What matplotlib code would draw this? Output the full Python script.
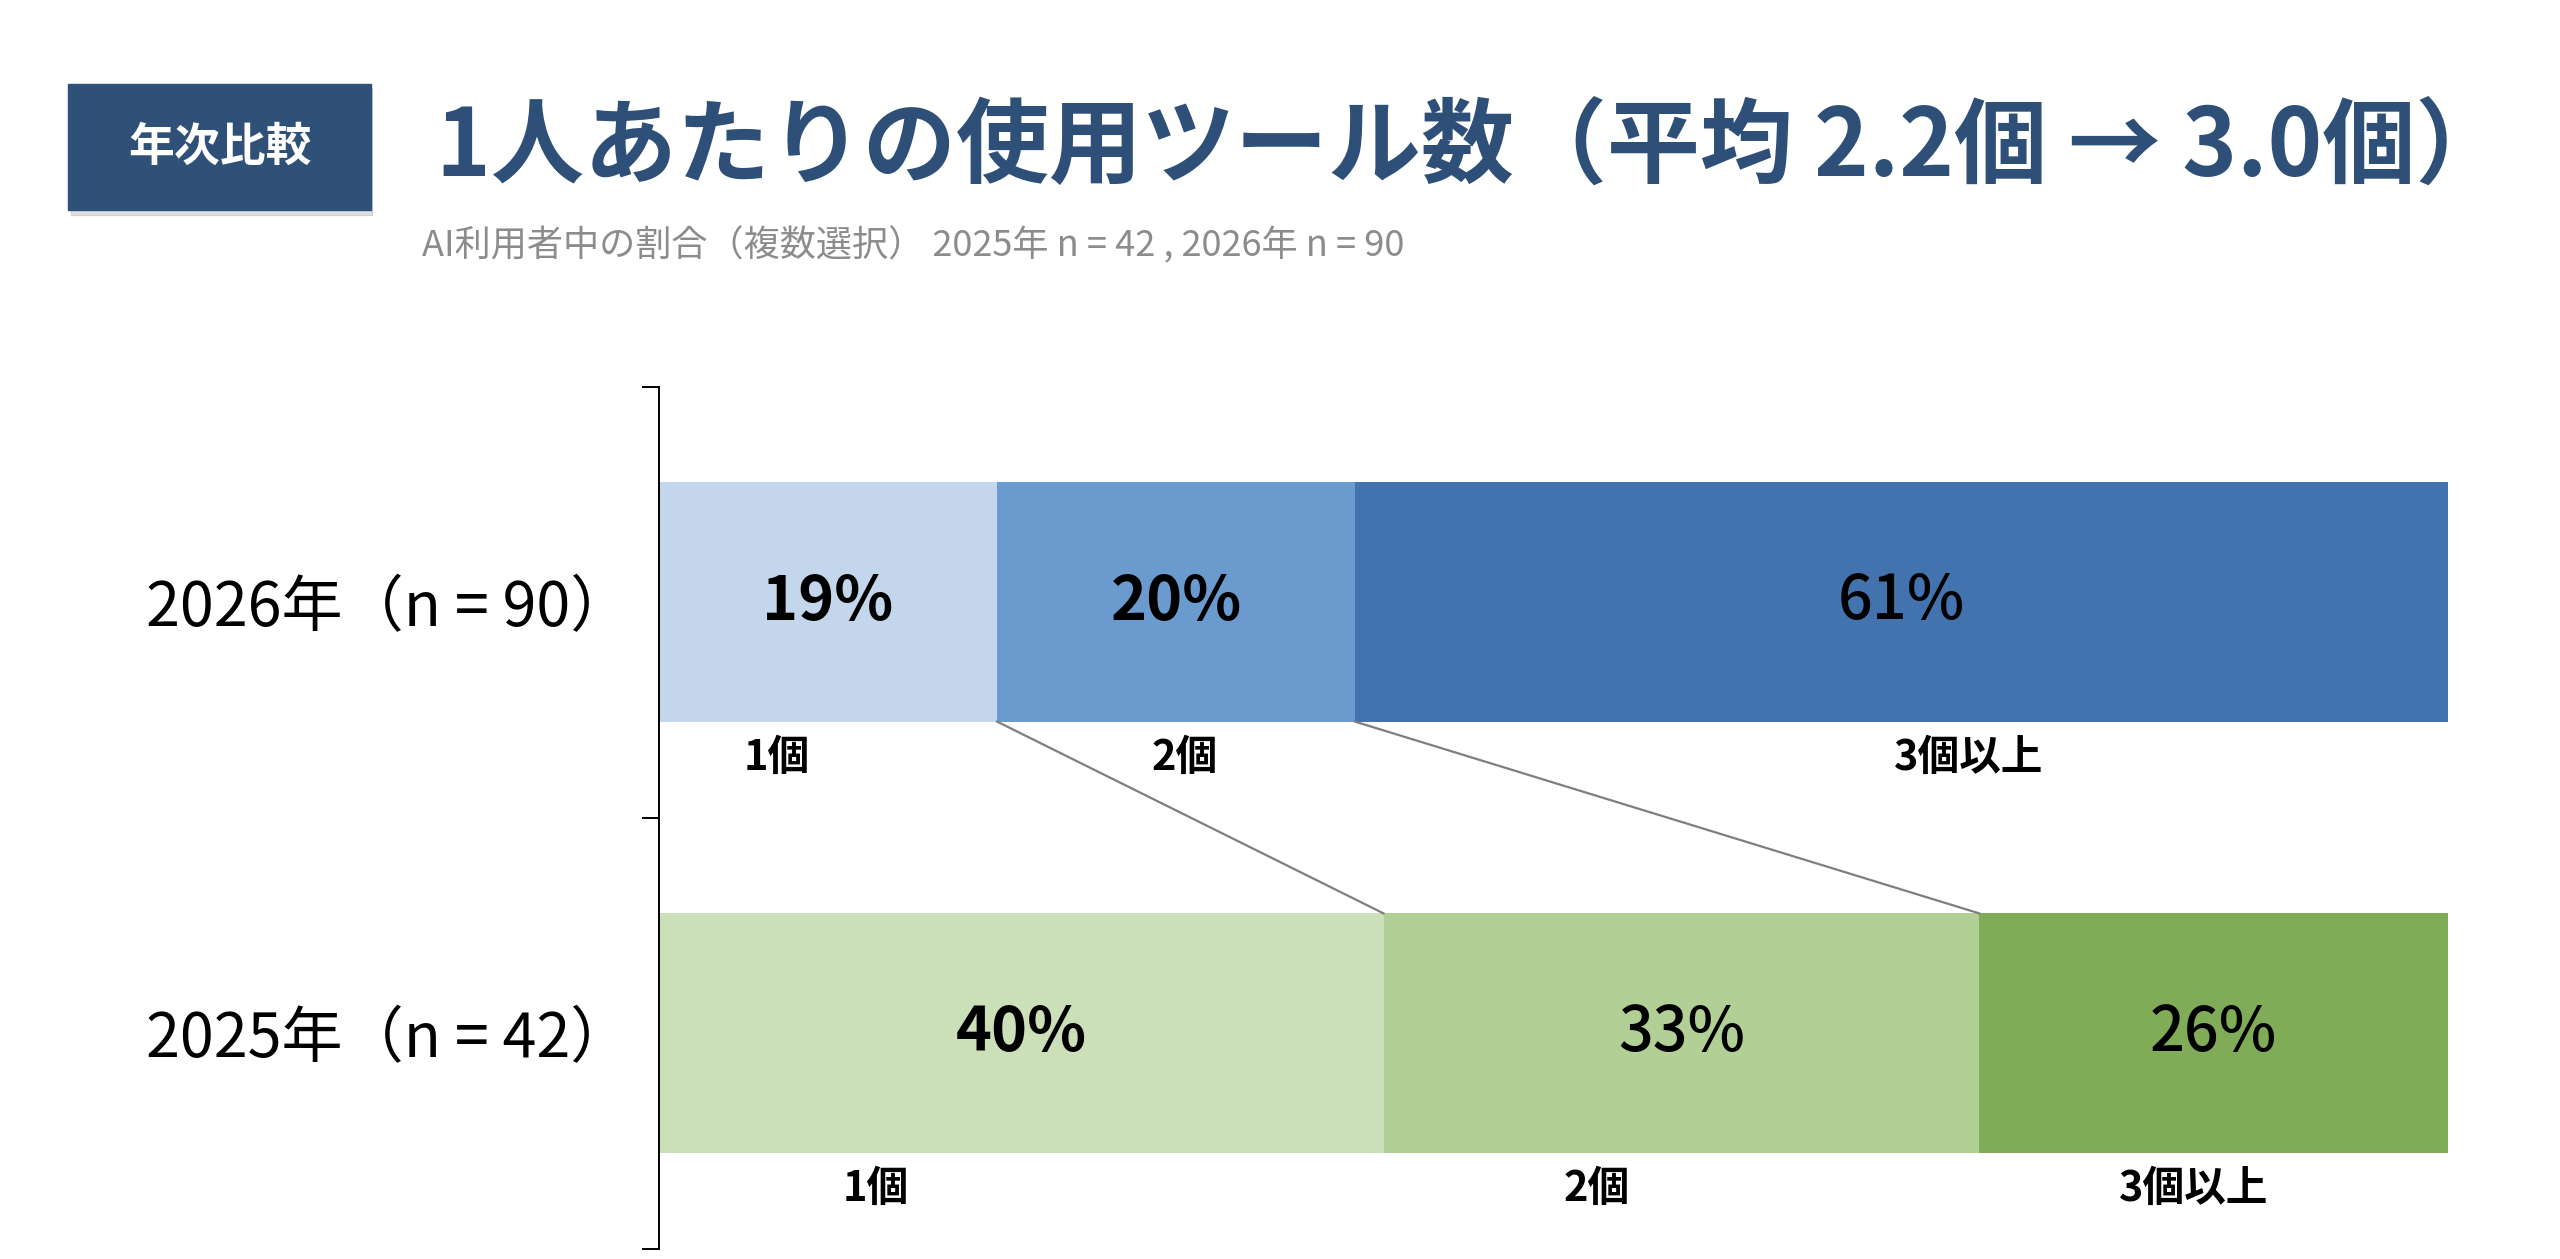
import matplotlib
matplotlib.use("Agg")
import matplotlib.pyplot as plt
from matplotlib.patches import Rectangle
import numpy as np

plt.rcParams['font.family'] = ['Noto Sans CJK JP', 'DejaVu Sans']

# data
years = ["2025年（n = 42）", "2026年（n = 90）"]
categories = ["1個", "2個", "3個以上"]
share_2025 = [40.5, 33.3, 26.2]
share_2026 = [18.9, 20.0, 61.1]
title = "1人あたりの使用ツール数（平均 2.2個 → 3.0個）"
subtitle = "AI利用者中の割合（複数選択） 2025年 n = 42 , 2026年 n = 90"
badge = "年次比較"

# where the small category labels sit under each bar (in % of axis)
cat_pos_2025 = [12.1, 52.4, 85.8]
cat_pos_2026 = [6.6, 29.4, 73.2]

blues = ["#C3D6EB", "#6B9ACF", "#4373AF"]
greens = ["#CBDFB9", "#B2CF96", "#80AB57"]
weights_2026 = ["bold", "bold", "medium"]
weights_2025 = ["bold", "medium", "medium"]

W, H = 2560, 1259
fig = plt.figure(figsize=(W / 100, H / 100), dpi=100)

def fx(px):
    return px / W

def fy(py):
    return 1 - py / H

# header badge + shadow
fig.patches.append(Rectangle((fx(71), fy(215)), fx(372) - fx(71), fy(88) - fy(215),
                             transform=fig.transFigure, color="#000000", alpha=0.12, zorder=1))
fig.patches.append(Rectangle((fx(68), fy(210)), fx(371) - fx(68), fy(84) - fy(210),
                             transform=fig.transFigure, color="#2F5077", zorder=2))
fig.text(fx(220), fy(148), badge, color="white", fontsize=33, fontweight="bold",
         ha="center", va="center", zorder=3)

fig.text(fx(436), fy(148), title, color="#2D4F78", fontsize=67, fontweight="bold",
         ha="left", va="center")
fig.text(fx(422), fy(245), subtitle, color="#8C8C8C", fontsize=26,
         ha="left", va="center")

# bars
ax = fig.add_axes([fx(659), fy(1248.5), fx(2448) - fx(659), fy(386.5) - fy(1248.5)])
bar_h = 0.555
rows = [(0, share_2025, greens, weights_2025, cat_pos_2025),
        (1, share_2026, blues, weights_2026, cat_pos_2026)]
for y, vals, cols, wts, cpos in rows:
    left = 0
    for v, c, w in zip(vals, cols, wts):
        ax.barh(y, v, left=left, height=bar_h, color=c, edgecolor="none")
        ax.text(left + v / 2, y, f"{round(v)}%", ha="center", va="center",
                fontsize=44, fontweight=w, color="black")
        left += v
    for name, p in zip(categories, cpos):
        ax.text(p, y - bar_h / 2 - 0.085, name, ha="center", va="center",
                fontsize=30, fontweight="bold", color="black")

# connector lines between segment boundaries
cum25 = np.cumsum(share_2025)
cum26 = np.cumsum(share_2026)
for a, b in zip(cum26[:-1], cum25[:-1]):
    ax.plot([a, b], [1 - bar_h / 2, bar_h / 2], color="#7F7F7F", lw=1.6)

ax.set_xlim(0, 100)
ax.set_ylim(-0.5, 1.5)
ax.set_xticks([])
ax.set_yticks([0, 1])
ax.set_yticklabels(years, fontsize=44)
ax.set_yticks([-0.5, 0.5, 1.5], minor=True)
ax.tick_params(axis="y", which="major", length=0, pad=20)
ax.tick_params(axis="y", which="minor", length=12, width=1.4, color="black")
for s in ["top", "right", "bottom"]:
    ax.spines[s].set_visible(False)
ax.spines["left"].set_linewidth(1.4)
ax.spines["left"].set_color("black")
ax.patch.set_alpha(0)

fig.savefig("out.png", dpi=100, facecolor="white")
